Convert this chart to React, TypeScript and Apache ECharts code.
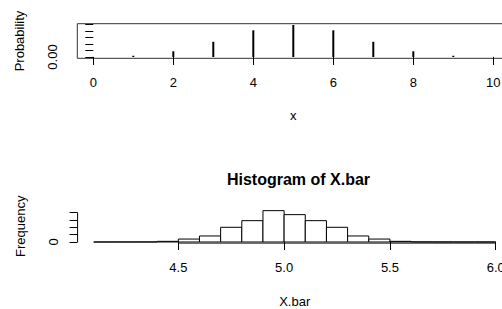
import React, { useEffect, useRef } from "react";
import * as echarts from "echarts";

// ---- Top panel: probability mass (type "h" plot) ----
const xValues = [0, 1, 2, 3, 4, 5, 6, 7, 8, 9, 10];
const probabilities = [0.001, 0.0098, 0.044, 0.117, 0.205, 0.246, 0.205, 0.117, 0.044, 0.0098, 0.001];
const xTicks = [0, 2, 4, 6, 8, 10];
const probTicks = [0, 0.05, 0.1, 0.15, 0.2, 0.25];
const probLabels = [0];

// ---- Bottom panel: histogram of X.bar ----
const binStarts = [4.1, 4.2, 4.3, 4.4, 4.5, 4.6, 4.7, 4.8, 4.9, 5.0, 5.1, 5.2, 5.3, 5.4, 5.5, 5.6, 5.7, 5.8, 5.9];
const binEnds = [4.2, 4.3, 4.4, 4.5, 4.6, 4.7, 4.8, 4.9, 5.0, 5.1, 5.2, 5.3, 5.4, 5.5, 5.6, 5.7, 5.8, 5.9, 6.0];
const counts = [0, 1, 4, 45, 200, 410, 1000, 1450, 2130, 1860, 1450, 1000, 410, 200, 45, 8, 2, 1, 0];
const histXTicks = [4.5, 5.0, 5.5, 6.0];
const freqTicks = [0, 500, 1000, 1500, 2000];
const freqLabels = [0];

const FONT = "'Liberation Sans', Arial, Helvetica, sans-serif";

export default function App() {
  const ref = useRef<HTMLDivElement>(null);

  useEffect(() => {
    if (!ref.current) return;
    const chart = echarts.init(ref.current, null, { renderer: "svg" });

    // R-style 4% axis expansion
    const xPad = (xValues[xValues.length - 1] - xValues[0]) * 0.04;
    const pMax = Math.max(...probabilities);
    const pPad = pMax * 0.04;
    const hMinX = binStarts[0];
    const hMaxX = binEnds[binEnds.length - 1];
    const hxPad = (hMaxX - hMinX) * 0.04;
    const cMax = Math.max(...counts);
    const cPad = cMax * 0.04;
    const hyMin = -cPad;
    const hxMin = hMinX - hxPad;

    const axisText = { color: "#000", fontSize: 13, fontFamily: FONT };
    const tickStyle = { color: "#000", width: 1 };

    const option: any = {
      animation: false,
      backgroundColor: "#fff",
      title: {
        text: "Histogram of X.bar",
        left: 293.5,
        top: 166,
        textAlign: "center",
        textStyle: { color: "#000", fontSize: 16, fontWeight: "bold", fontFamily: FONT },
      },
      grid: [
        {
          left: 77.3,
          top: 23.7,
          width: 432,
          height: 34.6,
          show: true,
          borderColor: "#333",
          borderWidth: 1,
          backgroundColor: "transparent",
          containLabel: false,
          outerBoundsMode: "none",
        },
        {
          left: 77.6,
          top: 209.4,
          width: 434.2,
          height: 33.85,
          show: false,
          containLabel: false,
          outerBoundsMode: "none",
        },
      ],
      xAxis: [
        {
          gridIndex: 0,
          type: "value",
          min: xValues[0] - xPad,
          max: xValues[xValues.length - 1] + xPad,
          axisLine: { show: false },
          splitLine: { show: false },
          axisTick: { show: true, length: 8, customValues: xTicks, lineStyle: tickStyle },
          axisLabel: { ...axisText, margin: 18, customValues: xTicks, formatter: (v: number) => String(v) },
          name: "x",
          nameLocation: "middle",
          nameGap: 51,
          nameTextStyle: axisText,
        },
        {
          gridIndex: 1,
          type: "value",
          min: hxMin,
          max: hMaxX + hxPad,
          axisLine: { show: false },
          splitLine: { show: false },
          axisTick: { show: true, length: 8, customValues: histXTicks, lineStyle: tickStyle },
          axisLabel: { ...axisText, margin: 18, customValues: histXTicks, formatter: (v: number) => v.toFixed(1) },
          name: "X.bar",
          nameLocation: "middle",
          nameGap: 52,
          nameTextStyle: axisText,
        },
      ],
      yAxis: [
        {
          gridIndex: 0,
          type: "value",
          min: -pPad,
          max: pMax + pPad,
          axisLine: { show: false },
          splitLine: { show: false },
          axisTick: { show: true, length: 8, customValues: probTicks, lineStyle: tickStyle },
          axisLabel: {
            ...axisText,
            margin: 18,
            rotate: 90,
            customValues: probLabels,
            formatter: (v: number) => v.toFixed(2),
          },
          name: "Probability",
          nameLocation: "middle",
          nameRotate: 90,
          nameGap: 51,
          nameTextStyle: axisText,
        },
        {
          gridIndex: 1,
          type: "value",
          min: hyMin,
          max: cMax + cPad,
          axisLine: { show: false },
          splitLine: { show: false },
          axisTick: { show: true, length: 8, customValues: freqTicks, lineStyle: tickStyle },
          axisLabel: {
            ...axisText,
            margin: 18,
            rotate: 90,
            customValues: freqLabels,
            formatter: (v: number) => String(v),
          },
          name: "Frequency",
          nameLocation: "middle",
          nameRotate: 90,
          nameGap: 51,
          nameTextStyle: axisText,
        },
      ],
      series: [
        {
          type: "bar",
          xAxisIndex: 0,
          yAxisIndex: 0,
          barWidth: 2,
          itemStyle: { color: "#000" },
          data: xValues.map((x, i) => [x, probabilities[i]]),
          silent: true,
        },
        {
          type: "custom",
          xAxisIndex: 1,
          yAxisIndex: 1,
          clip: false,
          silent: true,
          encode: { x: [0, 1], y: 2 },
          data: binStarts.map((s, i) => [s, binEnds[i], counts[i]]),
          renderItem: (_params: any, api: any) => {
            const p0 = api.coord([api.value(0), 0]);
            const p1 = api.coord([api.value(1), api.value(2)]);
            return {
              type: "rect",
              shape: { x: p0[0], y: p1[1], width: p1[0] - p0[0], height: p0[1] - p1[1] },
              style: { fill: "#fff", stroke: "#000", lineWidth: 1 },
            };
          },
        },
        {
          // x axis line of the histogram, spanning first to last tick
          type: "line",
          xAxisIndex: 1,
          yAxisIndex: 1,
          symbol: "none",
          silent: true,
          lineStyle: { color: "#000", width: 1 },
          data: [
            [histXTicks[0], hyMin],
            [histXTicks[histXTicks.length - 1], hyMin],
          ],
        },
        {
          // y axis line of the histogram, spanning first to last tick
          type: "line",
          xAxisIndex: 1,
          yAxisIndex: 1,
          symbol: "none",
          silent: true,
          lineStyle: { color: "#000", width: 1 },
          data: [
            [hxMin, freqTicks[0]],
            [hxMin, freqTicks[freqTicks.length - 1]],
          ],
        },
      ],
    };

    chart.setOption(option);
    return () => chart.dispose();
  }, []);

  return (
    <div
      ref={ref}
      style={{ position: "fixed", left: 0, top: 0, width: 502, height: 309, background: "#fff" }}
    />
  );
}
